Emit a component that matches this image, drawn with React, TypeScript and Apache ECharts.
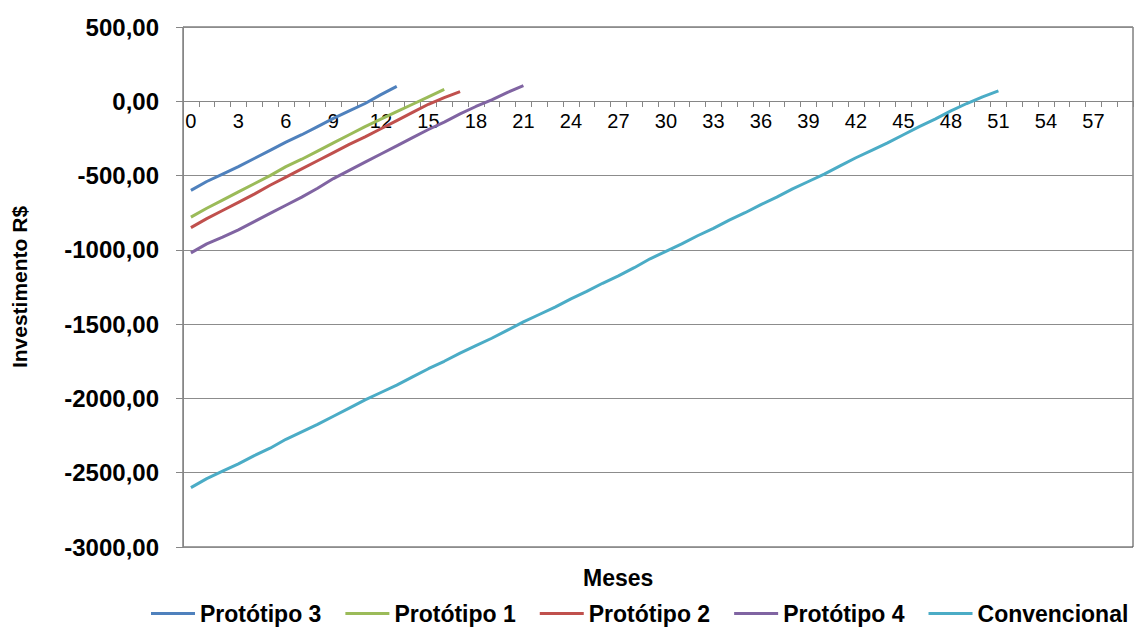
import React, { useEffect, useRef } from "react";
import * as echarts from "echarts";

const months: string[] = [];
for (let i = 0; i < 60; i++) months.push(String(i));

const prototipo3 = [-600, -540, -490, -440, -385, -330, -275, -225, -170, -115, -65, -15, 45, 100];
const prototipo1 = [-780, -720, -665, -610, -555, -500, -440, -390, -335, -280, -225, -170, -120, -70, -20, 30, 80];
const prototipo2 = [-850, -790, -735, -680, -625, -565, -510, -455, -400, -345, -290, -240, -185, -130, -75, -20, 25, 65];
const prototipo4 = [-1020, -960, -915, -865, -810, -755, -700, -645, -585, -520, -465, -410, -355, -300, -245, -190, -140, -85, -35, 10, 60, 105];
const convencional = [
  -2600, -2540, -2490, -2440, -2385, -2335, -2275, -2225, -2175, -2120,
  -2065, -2010, -1960, -1910, -1855, -1800, -1750, -1695, -1645, -1595,
  -1540, -1485, -1435, -1385, -1330, -1280, -1225, -1175, -1120, -1060,
  -1010, -960, -905, -855, -800, -750, -695, -645, -590, -540,
  -490, -435, -380, -330, -280, -225, -170, -120, -65, -15,
  30, 70,
];

const seriesNames = ["Protótipo 3", "Protótipo 1", "Protótipo 2", "Protótipo 4", "Convencional"];
const seriesData = [prototipo3, prototipo1, prototipo2, prototipo4, convencional];
const seriesColors = ["#4F81BD", "#9BBB59", "#C0504D", "#8064A2", "#4BACC6"];

const FONT = "'Liberation Sans', Arial, sans-serif";

export default function App() {
  const ref = useRef<HTMLDivElement>(null);
  useEffect(() => {
    if (!ref.current) return;
    const chart = echarts.init(ref.current, undefined, { renderer: "svg" });
    chart.setOption({
      animation: false,
      backgroundColor: "#ffffff",
      textStyle: { fontFamily: FONT },
      grid: {
        left: 183,
        right: 9,
        top: 27,
        bottom: 87,
        show: true,
        borderColor: "#404040",
        borderWidth: 1,
        backgroundColor: "transparent",
      },
      legend: {
        left: 146,
        top: 597,
        itemWidth: 44,
        itemHeight: 3,
        itemGap: 24,
        icon: "rect",
        textStyle: { fontFamily: FONT, fontSize: 23, fontWeight: "bold", color: "#000" },
        data: seriesNames,
      },
      graphic: [
        {
          type: "text",
          left: 583,
          top: 566,
          style: { text: "Meses", font: `bold 23px ${FONT}`, fill: "#000" },
        },
      ],
      xAxis: {
        type: "category",
        data: months,
        boundaryGap: true,
        offset: -446,
        axisLine: { onZero: false, lineStyle: { color: "#868686", width: 1 } },
        axisTick: { show: true, interval: 0, length: 6, lineStyle: { color: "#868686" } },
        axisLabel: { interval: 2, margin: 10, fontSize: 20, color: "#000", fontFamily: FONT },
        splitLine: { show: false },
      },
      yAxis: {
        type: "value",
        min: -3000,
        max: 500,
        interval: 500,
        name: "Investimento R$",
        nameLocation: "middle",
        nameRotate: 90,
        nameGap: 153,
        nameTextStyle: { fontSize: 21, fontWeight: "bold", color: "#000", fontFamily: FONT },
        axisLine: { show: true, lineStyle: { color: "#868686" } },
        axisTick: { show: true, length: 7, lineStyle: { color: "#868686" } },
        axisLabel: {
          fontSize: 24,
          fontWeight: "bold",
          color: "#000",
          margin: 24,
          fontFamily: FONT,
          formatter: (v: number) => v.toFixed(2).replace(".", ","),
        },
        splitLine: { show: true, lineStyle: { color: "#8c8c8c", width: 1 } },
      },
      series: seriesNames.map((name, i) => ({
        name,
        type: "line",
        data: seriesData[i],
        showSymbol: false,
        symbol: "none",
        smooth: false,
        lineStyle: { color: seriesColors[i], width: 3 },
        itemStyle: { color: seriesColors[i] },
      })),
    });
    return () => chart.dispose();
  }, []);
  return (
    <div
      ref={ref}
      style={{ position: "fixed", left: 0, top: 0, width: 1142, height: 634 }}
    />
  );
}
